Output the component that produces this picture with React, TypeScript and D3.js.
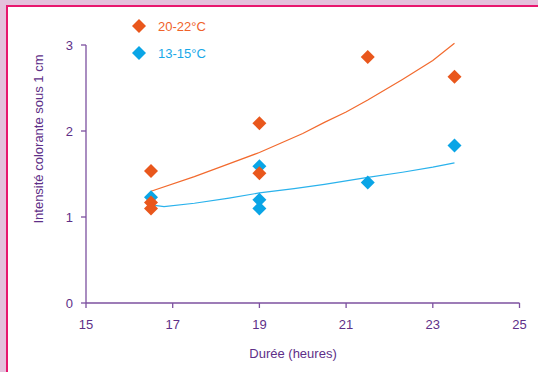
import React from "react";
import * as d3 from "d3";

const xTicks = [15, 17, 19, 21, 23, 25];
const yTicks = [0, 1, 2, 3];

const warmX = [16.5, 16.5, 16.5, 19, 19, 21.5, 23.5];
const warmY = [1.535, 1.17, 1.1, 2.09, 1.51, 2.86, 2.63];
const coolX = [16.5, 19, 19, 19, 21.5, 23.5];
const coolY = [1.23, 1.59, 1.2, 1.1, 1.4, 1.83];

const warmLineX = [16.5, 17.5, 18.2, 19, 19.5, 20, 20.5, 21, 21.5, 22.3, 23, 23.5];
const warmLineY = [1.3, 1.47, 1.6, 1.75, 1.86, 1.97, 2.1, 2.22, 2.36, 2.6, 2.82, 3.02];
const coolLineX = [16.5, 16.8, 17.5, 18.3, 19, 19.8, 20.5, 21.5, 22.3, 23, 23.5];
const coolLineY = [1.14, 1.12, 1.16, 1.22, 1.28, 1.33, 1.38, 1.46, 1.52, 1.58, 1.63];

const legendLabels = ["20-22°C", "13-15°C"];
const xTitle = "Durée (heures)";
const yTitle = "Intensité colorante sous 1 cm";

const ORANGE = "#e9571c";
const ORANGE_LINE = "#f26a2e";
const BLUE = "#0aa5e6";
const BLUE_LINE = "#2ab2ec";
const AXIS = "#7c509f";
const TEXT = "#5e2f88";

export default function App() {
  const x = d3.scaleLinear().domain([15, 25]).range([86, 519.5]);
  const y = d3.scaleLinear().domain([0, 3]).range([303, 45]);
  const line = d3
    .line<[number, number]>()
    .x((d) => x(d[0]))
    .y((d) => y(d[1]));
  const warmLine = warmLineX.map((v, i) => [v, warmLineY[i]] as [number, number]);
  const coolLine = coolLineX.map((v, i) => [v, coolLineY[i]] as [number, number]);
  const diamond = (cx: number, cy: number, r = 7) =>
    `M${cx},${cy - r}L${cx + r},${cy}L${cx},${cy + r}L${cx - r},${cy}Z`;
  const font = "'Liberation Sans', Arial, Helvetica, sans-serif";
  const fs = 13;

  return (
    <svg
      width={538}
      height={372}
      style={{ position: "fixed", left: 0, top: 0, display: "block" }}
      fontFamily={font}
    >
      <rect x={0} y={0} width={538} height={372} fill="#e4c1dc" />
      <rect x={6} y={5} width={532} height={367} fill="#e8166e" />
      <rect x={8} y={7} width={530} height={365} fill="#ffffff" />

      {/* axes */}
      <line x1={x(15)} x2={x(25)} y1={y(0)} y2={y(0)} stroke={AXIS} strokeWidth={1.3} />
      <line x1={x(15)} x2={x(15)} y1={y(0)} y2={y(3)} stroke={AXIS} strokeWidth={1.3} />
      {yTicks.map((t) => (
        <g key={"y" + t}>
          <line x1={x(15) - 5} x2={x(15)} y1={y(t)} y2={y(t)} stroke={AXIS} strokeWidth={1.3} />
          <text x={73} y={y(t) + 4.5} textAnchor="end" fontSize={fs} fill={TEXT}>
            {t}
          </text>
        </g>
      ))}
      {xTicks.map((t) => (
        <g key={"x" + t}>
          <line x1={x(t)} x2={x(t)} y1={y(0)} y2={y(0) + 5} stroke={AXIS} strokeWidth={1.3} />
          <text x={x(t)} y={329} textAnchor="middle" fontSize={fs} fill={TEXT}>
            {t}
          </text>
        </g>
      ))}
      <text x={293} y={358} textAnchor="middle" fontSize={fs} fill={TEXT}>
        {xTitle}
      </text>
      <text
        transform="translate(43,139) rotate(-90)"
        textAnchor="middle"
        fontSize={fs}
        fill={TEXT}
      >
        {yTitle}
      </text>

      {/* trend lines */}
      <path d={line(warmLine) || ""} fill="none" stroke={ORANGE_LINE} strokeWidth={1.2} />
      <path d={line(coolLine) || ""} fill="none" stroke={BLUE_LINE} strokeWidth={1.2} />

      {/* points */}
      {coolX.map((v, i) => (
        <path key={"c" + i} d={diamond(x(v), y(coolY[i]))} fill={BLUE} />
      ))}
      {warmX.map((v, i) => (
        <path key={"w" + i} d={diamond(x(v), y(warmY[i]))} fill={ORANGE} />
      ))}

      {/* legend */}
      <path d={diamond(139, 26)} fill={ORANGE} />
      <text x={158} y={30.5} fontSize={fs} fill="#f0622a">
        {legendLabels[0]}
      </text>
      <path d={diamond(139, 53)} fill={BLUE} />
      <text x={158} y={57.5} fontSize={fs} fill="#18a8e8">
        {legendLabels[1]}
      </text>
    </svg>
  );
}
